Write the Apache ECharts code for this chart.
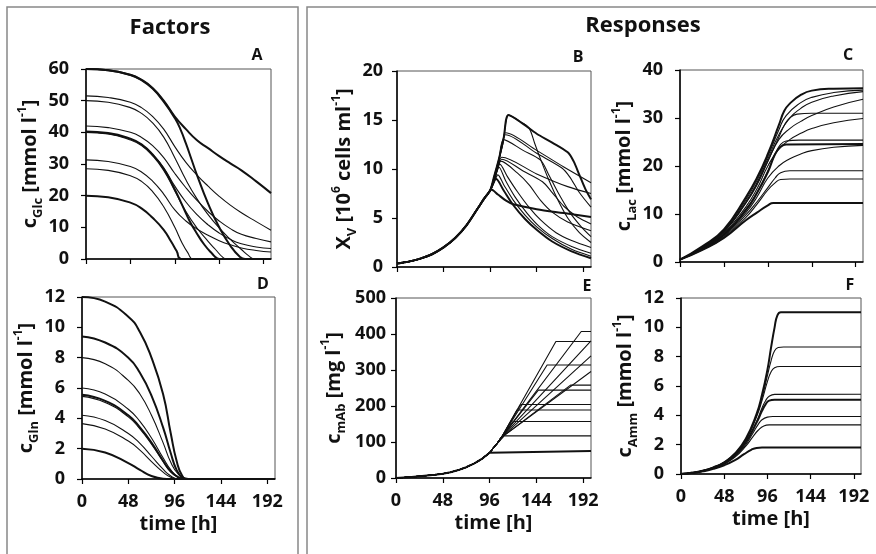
<!DOCTYPE html>
<html>
<head>
<meta charset="utf-8">
<script src="https://cdn.jsdelivr.net/npm/echarts@6/dist/echarts.min.js"></script>
<style>
  html, body { margin: 0; padding: 0; background: #fff; }
  #main { width: 876px; height: 554px; }
</style>
</head>
<body>
<div id="main"></div>
<script>
// time axis ticks (h)
const timeTicks = [0, 48, 96, 144, 192];

// A - glucose [mmol/l], one array of [t, c] per run
const glcRuns = [
  [[0,60],[24,59.6],[48,58.2],[60,56.6],[72,54],[84,50],[96,45],[108,41],[120,37.5],[132,35],[144,32.5],[156,30.2],[168,28],[184,24.5],[200,20.8]],
  [[0,60],[24,59.6],[48,58.1],[60,56.5],[72,53.8],[84,49.7],[96,44.5],[102,41],[108,36.5],[114,31.5],[120,26.5],[132,17.5],[144,10],[156,4.2],[166,0.8],[172,0],[200,0]],
  [[0,51.5],[24,51],[48,49.5],[60,47.8],[72,45],[84,41],[96,35.5],[108,30.5],[120,26.5],[132,23],[144,19.8],[156,17],[168,14.6],[184,11.8],[200,9.1]],
  [[0,50],[24,49.5],[48,47.8],[60,46],[72,43],[84,38.5],[96,32],[108,25],[120,19],[132,14],[144,9.8],[156,6.2],[168,3],[176,1],[182,0],[200,0]],
  [[0,42],[24,41.5],[48,40],[60,38.4],[72,35.8],[84,32],[96,27],[108,22.5],[120,18.5],[132,15],[144,12],[156,9.6],[168,7.8],[184,6.5],[200,5.4]],
  [[0,40.3],[24,39.8],[48,38],[60,36.2],[72,33],[84,28.5],[96,22],[104,17],[112,12],[120,8],[128,4.5],[136,1.8],[142,0.2],[146,0],[200,0]],
  [[0,40.1],[24,39.6],[48,37.9],[60,36.1],[72,33],[84,28.8],[96,23],[108,18],[120,14],[132,10.8],[144,8.2],[156,6.2],[168,4.8],[184,3.8],[200,3.3]],
  [[0,40],[24,39.5],[48,37.6],[60,35.8],[72,32.6],[84,28],[96,21.5],[108,15],[120,9.8],[132,5.6],[140,3],[148,0.5],[152,0],[200,0]],
  [[0,31.3],[24,30.8],[48,29.2],[60,27.5],[72,24.6],[84,20.5],[96,15.5],[108,12],[120,9.5],[132,7.5],[144,5.8],[156,4.5],[168,3.5],[184,2.7],[200,2.2]],
  [[0,28.5],[24,28],[48,26.3],[60,24.5],[72,21.3],[84,16.5],[96,10],[104,5],[110,2],[116,0],[200,0]],
  [[0,20],[24,19.5],[48,17.8],[60,16],[72,13],[84,9.2],[92,5.5],[98,2.5],[103,0],[200,0]]
];

// B - viable cells [1e6 cells/ml]: shared growth phase, then each run's tail
const xvGrowth = [[0,0.35],[12,0.55],[24,0.85],[36,1.3],[48,2.0],[60,2.95],[72,4.3],[84,6.1],[90,7.0],[96,7.8]];
const xvTails = [
  [[100,9.2],[105,11],[110,13.2],[115,15.5],[130,14.6],[144,13.6],[160,12.7],[176,11.7],[182,10.8],[188,9.4],[194,8],[200,6.9]],
  [[100,9.2],[105,11],[110,13.2],[115,15.5],[126,14.9],[136,14.2],[142,12.6],[148,11],[156,9],[166,6.8],[176,5],[188,3.5],[200,2.5]],
  [[100,9.1],[105,10.9],[109,12.6],[112,13.7],[144,11.9],[172,10.2],[200,8.6]],
  [[100,9.1],[105,10.9],[109,12.5],[112,13.5],[144,11.6],[170,10.1],[178,9.2],[188,7.6],[200,6.1]],
  [[100,9.0],[105,10.8],[110,13],[130,11.9],[148,10.9],[156,9.5],[166,7.6],[178,5.6],[190,4.1],[200,3.1]],
  [[100,8.8],[104,10.2],[108,11.2],[144,9.5],[176,8.2],[200,7.5]],
  [[100,8.8],[104,10.1],[108,11],[130,9.8],[150,8.7],[160,7.6],[172,6.2],[186,5.1],[200,4.4]],
  [[100,8.8],[104,10],[107,10.8],[124,9.6],[136,8.4],[148,6.8],[160,5.6],[176,4.6],[200,3.7]],
  [[100,8.8],[106,10.5],[114,9.2],[124,7.7],[136,6.1],[148,4.8],[164,3.5],[180,2.7],[200,2.0]],
  [[100,8.7],[105,10.2],[112,8.8],[122,7.1],[134,5.5],[146,4.2],[160,3.1],[180,2.1],[200,1.4]],
  [[100,8.6],[104,9.4],[110,8.4],[120,6.8],[132,5.3],[144,4.1],[160,2.9],[180,1.8],[200,1.1]],
  [[99,8.5],[102,9],[110,7.8],[120,6.3],[132,4.9],[144,3.8],[160,2.6],[180,1.6],[200,0.9]],
  [[97,7.9],[104,7.4],[112,6.8],[120,6.4],[144,5.9],[172,5.5],[200,5.1]]
];

// C - lactate [mmol/l]
const lacRuns = [
  [[0,0.5],[24,3.2],[48,6.8],[72,13.5],[84,17.5],[96,22.5],[108,28.5],[114,31.5],[120,33],[132,34.8],[144,35.7],[168,36.1],[200,36.2]],
  [[0,0.5],[24,3.1],[48,6.6],[72,13],[84,17],[96,22],[108,27.5],[116,30.5],[132,33.2],[144,34.3],[168,35.3],[200,35.8]],
  [[0,0.5],[24,3],[48,6.4],[72,12.6],[84,16.5],[96,21.5],[108,26.5],[120,30],[132,32],[144,33.3],[168,34.6],[200,35.5]],
  [[0,0.5],[24,3],[48,6.3],[72,12.3],[84,16.2],[96,21],[108,25.5],[120,27.8],[132,29.3],[144,30.5],[168,32.3],[200,33.9]],
  [[0,0.5],[24,3],[48,6.3],[72,12.3],[84,16],[96,21],[108,26],[114,28.5],[120,30],[128,30.8],[144,31],[200,31]],
  [[0,0.5],[24,2.9],[48,6],[72,11.5],[84,15.2],[96,20],[108,23.5],[120,25.5],[132,26.8],[144,27.8],[168,29],[200,29.9]],
  [[0,0.5],[24,2.8],[48,5.8],[72,11],[84,14.5],[96,19],[104,22.5],[110,24.5],[116,25.2],[130,25.4],[200,25.4]],
  [[0,0.5],[24,2.8],[48,5.7],[72,10.8],[84,14.3],[96,18.7],[104,22.5],[110,24],[116,24.5],[200,24.6]],
  [[0,0.5],[24,2.7],[48,5.5],[72,10.3],[84,13.5],[96,17.5],[108,20],[120,21.5],[132,22.5],[144,23.2],[168,23.9],[200,24.3]],
  [[0,0.5],[24,2.6],[48,5.3],[72,9.8],[84,12.5],[96,15.5],[104,17.5],[110,18.6],[120,19],[200,19]],
  [[0,0.5],[24,2.5],[48,5.1],[72,9.3],[84,12],[96,15],[104,16.5],[110,17.2],[120,17.3],[200,17.3]],
  [[0,0.5],[24,2.5],[48,5],[72,8.7],[84,10.3],[96,11.8],[102,12.3],[200,12.3]]
];

// D - glutamine [mmol/l]
const glnRuns = [
  [[0,12],[24,11.7],[48,10.7],[60,9.7],[72,8],[84,5.6],[92,3],[98,1.2],[104,0.2],[110,0],[200,0]],
  [[0,9.4],[24,9.0],[48,8.0],[60,7.0],[72,5.5],[84,3.4],[92,1.7],[98,0.6],[104,0.1],[110,0],[200,0]],
  [[0,8],[24,7.6],[48,6.5],[60,5.6],[72,4.2],[84,2.4],[92,1.1],[100,0.3],[108,0],[200,0]],
  [[0,6],[24,5.6],[48,4.6],[60,3.8],[72,2.7],[84,1.4],[92,0.6],[100,0.1],[106,0],[200,0]],
  [[0,5.55],[24,5.15],[48,4.2],[60,3.4],[72,2.4],[84,1.2],[92,0.5],[100,0.1],[106,0],[200,0]],
  [[0,5.45],[24,5.05],[48,4.1],[60,3.3],[72,2.3],[84,1.15],[92,0.45],[100,0.1],[106,0],[200,0]],
  [[0,4.2],[24,3.85],[48,3.0],[60,2.35],[72,1.5],[84,0.65],[92,0.2],[100,0],[200,0]],
  [[0,3.65],[24,3.3],[48,2.5],[60,1.9],[72,1.15],[84,0.45],[92,0.12],[100,0],[200,0]],
  [[0,2],[24,1.75],[48,1.05],[60,0.6],[72,0.2],[84,0.02],[92,0],[200,0]]
];

// E - antibody [mg/l]: shared growth phase, then each run's tail
const mabGrowth = [[0,0],[8,1.5],[16,3],[24,5],[32,7],[40,9],[48,12],[56,16],[64,22],[72,30],[80,40],[88,53],[96,70]];
const mabTails = [
  [[98,75],[200,75]],
  [[100,84],[104,96],[108,108],[111,117],[200,117]],
  [[100,84],[104,97],[108,112],[120,157],[200,157]],
  [[100,84],[104,97],[108,112],[124,189],[200,189]],
  [[100,84],[104,97],[108,112],[128,204],[200,204]],
  [[100,84],[104,97],[108,112],[146,244],[200,244]],
  [[100,84],[104,97],[108,112],[179,258],[200,258]],
  [[100,84],[104,97],[108,112],[155,314],[200,314]],
  [[100,84],[104,97],[108,112],[164,379],[200,379]],
  [[100,84],[104,97],[108,112],[190,407],[200,407]],
  [[100,84],[104,97],[108,112],[200,381]],
  [[100,84],[104,97],[108,112],[200,339]],
  [[100,84],[104,97],[108,112],[200,296]]
];

// F - ammonium [mmol/l]
const ammRuns = [
  [[0,0],[12,0.08],[24,0.22],[36,0.45],[48,0.8],[60,1.4],[72,2.4],[84,4.1],[90,5.4],[96,7.1],[100,8.6],[104,10],[107,10.8],[111,11.03],[200,11.03]],
  [[0,0],[12,0.08],[24,0.22],[36,0.45],[48,0.8],[60,1.4],[72,2.35],[84,4],[90,5.2],[96,6.7],[100,7.7],[104,8.4],[108,8.62],[114,8.66],[200,8.66]],
  [[0,0],[12,0.08],[24,0.22],[36,0.45],[48,0.78],[60,1.38],[72,2.3],[84,3.9],[90,5],[96,6.3],[100,6.95],[104,7.25],[110,7.33],[200,7.33]],
  [[0,0],[12,0.08],[24,0.21],[36,0.43],[48,0.75],[60,1.3],[72,2.2],[84,3.6],[90,4.5],[94,5.0],[98,5.3],[104,5.43],[200,5.44]],
  [[0,0],[12,0.08],[24,0.21],[36,0.43],[48,0.75],[60,1.3],[72,2.15],[84,3.5],[90,4.3],[94,4.75],[98,5.0],[104,5.06],[200,5.06]],
  [[0,0],[12,0.07],[24,0.2],[36,0.4],[48,0.7],[60,1.2],[72,2.0],[80,2.8],[86,3.4],[90,3.7],[96,3.88],[102,3.92],[200,3.92]],
  [[0,0],[12,0.07],[24,0.2],[36,0.4],[48,0.68],[60,1.15],[72,1.9],[80,2.55],[86,3.0],[92,3.28],[98,3.35],[200,3.35]],
  [[0,0],[12,0.06],[24,0.18],[36,0.35],[48,0.6],[60,0.95],[70,1.35],[78,1.65],[84,1.78],[90,1.8],[200,1.8]]
];

const xvRuns = xvTails.map(t => xvGrowth.concat(t));
const mabRuns = mabTails.map(t => mabGrowth.concat(t));

const FONT = "'Open Sans', 'DejaVu Sans', sans-serif";
const INK = '#111';

// one entry per panel: data + axis setup + where it sits on the page
const panels = [
  { runs: glcRuns, thick: [0, 1, 5, 10], yMax: 60, yStep: 10, name: 'c{sub|Glc} [mmol l{sup|-1}]', letter: 'A',
    grid: { left: 86, top: 69, width: 185, height: 190 }, gap: 38, lm: 17, showX: false, smooth: 0.5, lx: 257, ly: 55 },
  { runs: xvRuns, thick: [0, 12, 11], yMax: 20, yStep: 5, name: 'X{sub|V} [10{sup|6} cells ml{sup|-1}]', letter: 'B',
    grid: { left: 397, top: 71, width: 194, height: 196 }, gap: 38, lm: 14, showX: false, smooth: 0.3, lx: 578, ly: 57 },
  { runs: lacRuns, thick: [0, 7, 11], yMax: 40, yStep: 10, name: 'c{sub|Lac} [mmol l{sup|-1}]', letter: 'C',
    grid: { left: 680, top: 70, width: 183, height: 192 }, gap: 38, lm: 17, showX: false, smooth: 0.5, lx: 848, ly: 55 },
  { runs: glnRuns, thick: [0, 1, 4, 8], yMax: 12, yStep: 2, name: 'c{sub|Gln} [mmol l{sup|-1}]', letter: 'D',
    grid: { left: 82, top: 297, width: 193, height: 182 }, gap: 32, lm: 17, showX: true, smooth: 0.5, lx: 263, ly: 284 },
  { runs: mabRuns, thick: [0], yMax: 500, yStep: 100, name: 'c{sub|mAb} [mg l{sup|-1}]', letter: 'E',
    grid: { left: 396, top: 298, width: 195, height: 180 }, gap: 48, lm: 10, showX: true, smooth: false, lx: 587, ly: 286 },
  { runs: ammRuns, thick: [0, 4, 7], yMax: 12, yStep: 2, name: 'c{sub|Amm} [mmol l{sup|-1}]', letter: 'F',
    grid: { left: 681, top: 298, width: 180, height: 176 }, gap: 33, lm: 17, showX: true, smooth: 0.5, lx: 850, ly: 285 }
];

const labelStyle = { fontFamily: FONT, fontWeight: 'bold', fontSize: 18, color: INK };

const grids = [], xAxes = [], yAxes = [], series = [], texts = [];

panels.forEach((p, i) => {
  grids.push(Object.assign({ show: true, borderColor: '#555', borderWidth: 1, containLabel: false }, p.grid));

  xAxes.push({
    type: 'value', gridIndex: i, min: 0, max: 200, interval: 48,
    axisLine: { lineStyle: { color: '#000', width: 1.5 } },
    axisTick: { show: true, length: 5, customValues: timeTicks, lineStyle: { color: '#000', width: 1.2 } },
    axisLabel: Object.assign({ show: p.showX, customValues: timeTicks, margin: 14 }, labelStyle),
    splitLine: { show: false },
    name: p.showX ? 'time [h]' : '',
    nameLocation: 'middle', nameGap: 35,
    nameTextStyle: { fontFamily: FONT, fontWeight: 'bold', fontSize: 20, color: INK }
  });

  yAxes.push({
    type: 'value', gridIndex: i, min: 0, max: p.yMax, interval: p.yStep,
    axisLine: { show: true, lineStyle: { color: '#000', width: 1.5 } },
    axisTick: { show: true, length: 5, lineStyle: { color: '#000', width: 1.2 } },
    axisLabel: Object.assign({ margin: p.lm }, labelStyle),
    splitLine: { show: false },
    name: p.name, nameLocation: 'middle', nameRotate: 90, nameGap: p.gap,
    nameTextStyle: {
      fontFamily: FONT, fontWeight: 'bold', fontSize: 20, color: INK, lineHeight: 28,
      rich: {
        sub: { fontFamily: FONT, fontWeight: 'bold', fontSize: 13, color: INK, verticalAlign: 'bottom' },
        sup: { fontFamily: FONT, fontWeight: 'bold', fontSize: 12, color: INK, verticalAlign: 'top' }
      }
    }
  });

  p.runs.forEach((run, k) => {
    series.push({
      type: 'line', xAxisIndex: i, yAxisIndex: i, data: run,
      symbol: 'none', showSymbol: false, silent: true,
      smooth: p.smooth,
      lineStyle: { color: '#111', width: p.thick.indexOf(k) >= 0 ? 2 : 1.1 }
    });
  });

  texts.push({
    type: 'text', x: p.lx, y: p.ly,
    style: { text: p.letter, fontFamily: FONT, fontWeight: 'bold', fontSize: 16, fill: INK, align: 'center', verticalAlign: 'middle' }
  });
});

const chart = echarts.init(document.getElementById('main'), null, { renderer: 'canvas' });
chart.setOption({
  animation: false,
  backgroundColor: '#fff',
  grid: grids,
  xAxis: xAxes,
  yAxis: yAxes,
  series: series,
  graphic: [
    { type: 'rect', shape: { x: 7, y: 7, width: 291, height: 560 }, style: { fill: 'none', stroke: '#888', lineWidth: 1.5 } },
    { type: 'rect', shape: { x: 307, y: 7, width: 580, height: 560 }, style: { fill: 'none', stroke: '#888', lineWidth: 1.5 } },
    { type: 'text', x: 170, y: 28, style: { text: 'Factors', fontFamily: FONT, fontWeight: 'bold', fontSize: 22, fill: INK, align: 'center', verticalAlign: 'middle' } },
    { type: 'text', x: 643, y: 26, style: { text: 'Responses', fontFamily: FONT, fontWeight: 'bold', fontSize: 22, fill: INK, align: 'center', verticalAlign: 'middle' } }
  ].concat(texts)
});
</script>
</body>
</html>
